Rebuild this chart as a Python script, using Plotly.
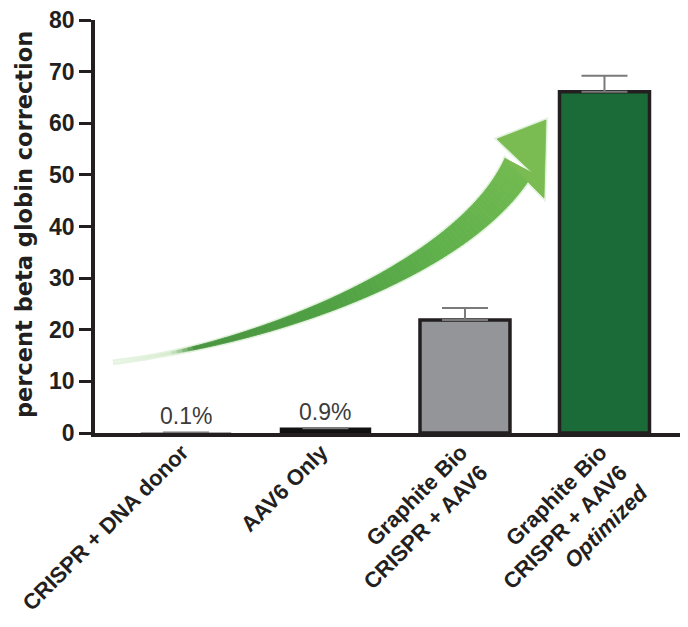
import plotly.graph_objects as go
import numpy as np

# ---------------- data ----------------
categories = [
    "CRISPR + DNA donor",
    "AAV6 Only",
    "Graphite Bio<br>CRISPR + AAV6",
    "Graphite Bio<br>CRISPR + AAV6<br><i>Optimized</i>",
]
values = [0.1, 0.9, 21.9, 66.1]
errors_plus = [None, None, 2.3, 3.1]
value_labels = ["0.1%", "0.9%", "", ""]
y_ticks = [0, 10, 20, 30, 40, 50, 60, 70, 80]
y_title = "percent beta globin correction"

# ---------------- styles / geometry ----------------
OFF = 8                      # page body margin
W, H = 672, 611
ML, MR, MT, MB = 87, 0, 12, 186
PW, PH = W - ML - MR, H - MT - MB
PLOT_L, PLOT_T = ML + OFF, MT + OFF   # plot area corner in page pixels
INK = "#231f20"
FONT = "Liberation Sans, Arial, Helvetica, sans-serif"
bar_fill = ["#d9d9d9", "#111111", "#939598", "#1b6b39"]
bar_line = ["#a8a8a8", "#111111", INK, INK]
bar_line_w = [1, 1.5, 3.5, 3.5]

x_pos = list(range(len(categories)))

fig = go.Figure()
fig.add_trace(go.Bar(
    x=x_pos, y=values, width=0.645,
    marker=dict(color=bar_fill, line=dict(color=bar_line, width=bar_line_w)),
    error_y=dict(type="data", symmetric=False, array=errors_plus,
                 arrayminus=[0] * len(values), color="#7a7a7a",
                 thickness=2, width=23),
    showlegend=False, hoverinfo="skip",
))

for i, txt in enumerate(value_labels):
    if txt:
        fig.add_annotation(x=x_pos[i], y=values[i], text=txt, showarrow=False,
                           xanchor="center", yanchor="bottom", yshift=1,
                           font=dict(family=FONT, size=23, color="#3c3c3c"))

# ---------------- decorative curved arrow ----------------
def to_paper(px, py):
    return (px - PLOT_L) / PW, (PLOT_T + PH - py) / PH

P0 = np.array([115.0, 362.0])
P3 = np.array([519.0, 166.0])
head_dir = np.array([0.469, -0.883])
P1 = P0 + 150 * np.array([1.0, -0.12])
P2 = P3 - 115 * head_dir

def bez(t):
    return ((1 - t) ** 3)[:, None] * P0 + (3 * (1 - t) ** 2 * t)[:, None] * P1 \
        + (3 * (1 - t) * t ** 2)[:, None] * P2 + (t ** 3)[:, None] * P3

def bez_d(t):
    return (3 * (1 - t) ** 2)[:, None] * (P1 - P0) + (6 * (1 - t) * t)[:, None] * (P2 - P1) \
        + (3 * t ** 2)[:, None] * (P3 - P2)

N = 90
ts = np.linspace(0, 1, N + 1)
C = bez(ts)
D = bez_d(ts)
D = D / np.linalg.norm(D, axis=1)[:, None]
Nrm = np.stack([-D[:, 1], D[:, 0]], axis=1)
wid = np.maximum(32 * ts ** 1.25, 1.6)
Lft = C + Nrm * (wid / 2)[:, None]
Rgt = C - Nrm * (wid / 2)[:, None]

stops_t = [0.0, 0.12, 0.17, 0.4, 0.7, 1.0]
stops_c = np.array([[236, 246, 234], [214, 236, 208], [74, 148, 64],
                    [78, 158, 67], [96, 176, 76], [114, 186, 80]], float)

def col(t):
    c = [np.interp(t, stops_t, stops_c[:, k]) for k in range(3)]
    return "rgb(%d,%d,%d)" % tuple(int(round(v)) for v in c)

def path_from(pts):
    s = ""
    for j, (px, py) in enumerate(pts):
        x, y = to_paper(px, py)
        s += ("M" if j == 0 else "L") + "%.5f,%.5f" % (x, y)
    return s + "Z"

tip = (546.0, 120.0)
barb_a = (497.0, 139.0)
barb_b = (544.0, 198.0)

shapes = []
halo = list(Lft) + [barb_a, tip, barb_b] + list(Rgt[::-1])
shapes.append(dict(type="path", xref="paper", yref="paper", path=path_from(halo),
                   fillcolor="rgba(225,242,220,0.9)",
                   line=dict(color="rgba(225,242,220,0.9)", width=4), layer="below"))
for k in range(N):
    quad = [Lft[k], Lft[k + 1], Rgt[k + 1], Rgt[k]]
    c = col((ts[k] + ts[k + 1]) / 2)
    shapes.append(dict(type="path", xref="paper", yref="paper", path=path_from(quad),
                       fillcolor=c, line=dict(color=c, width=0.8), layer="below"))
hc = "rgb(122,187,82)"
shapes.append(dict(type="path", xref="paper", yref="paper",
                   path=path_from([barb_a, tip, barb_b, tuple(Rgt[-1]), tuple(Lft[-1])]),
                   fillcolor=hc, line=dict(color=hc, width=0.8), layer="below"))

# y-axis title
tx, ty = to_paper(24, 225)
fig.add_annotation(xref="paper", yref="paper", x=tx, y=ty, text="<b>%s</b>" % y_title,
                   textangle=-90, showarrow=False, xanchor="center", yanchor="middle",
                   font=dict(family="DejaVu Sans, sans-serif", size=22.5, color=INK))

x_left = -0.652
x_right = 3 + (W + OFF - 604.5) / 139.5

fig.update_layout(
    width=W, height=H,
    margin=dict(l=ML, r=MR, t=MT, b=MB, pad=0),
    paper_bgcolor="white", plot_bgcolor="white",
    shapes=shapes,
    xaxis=dict(
        range=[x_left, x_right], tickmode="array", tickvals=x_pos, ticktext=categories,
        tickangle=-45, ticks="", showgrid=False, zeroline=False,
        showline=True, linecolor=INK, linewidth=3.5,
        ticklabelstandoff=-6, ticklabelshift=-4, ticklabeloverflow="allow",
        tickfont=dict(family=FONT, size=22, color=INK, weight="bold"),
    ),
    yaxis=dict(
        range=[0, 80], tickmode="array", tickvals=y_ticks,
        ticks="outside", ticklen=12, tickwidth=3, tickcolor=INK,
        ticklabeloverflow="allow",
        showgrid=False, zeroline=False, showline=True, linecolor=INK, linewidth=3.5,
        tickfont=dict(family=FONT, size=23, color=INK, weight="bold"),
    ),
)

fig.write_html("out.html")
